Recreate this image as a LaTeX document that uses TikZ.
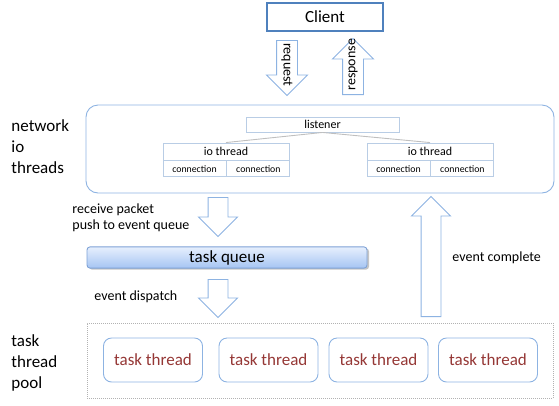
\documentclass[tikz,border=0pt]{standalone}
\usepackage{fontspec}
\setmainfont{Carlito}
\usetikzlibrary{calc,positioning,shapes.arrows,shadows}
\definecolor{clientblue}{HTML}{4F81BD}
\definecolor{lineblue}{HTML}{8DB3E2}
\definecolor{paleblue}{HTML}{B9CDE5}
\definecolor{threadred}{HTML}{953735}
\definecolor{queuetop}{HTML}{E6EFFD}
\definecolor{queuebot}{HTML}{A6C5F3}
\definecolor{queueline}{HTML}{7EA2D6}
\tikzset{
    clientbox/.style={draw=clientblue, line width=1.8pt, fill=white, minimum width=116pt, minimum height=28pt, font=\fontsize{17}{20}\selectfont},
    netbox/.style={draw=lineblue, rounded corners=12pt, minimum width=468pt, minimum height=88pt},
    iobox/.style={draw=paleblue, fill=white, inner sep=0pt, font=\fontsize{12}{14}\selectfont},
    cellbox/.style={draw=paleblue, inner sep=0pt, minimum width=63pt, minimum height=16pt, font=\fontsize{9.8}{12}\selectfont},
    blockarrow/.style={single arrow, draw=lineblue, fill=white, inner xsep=0pt, inner ysep=9.5pt, single arrow head extend=9.5pt, minimum width=38pt, single arrow tip angle=90},
    arrowtext/.style={inner sep=0pt, font=\fontsize{14}{16}\selectfont},
    lbl/.style={anchor=west, align=left, inner sep=0pt, font=\fontsize{14}{16}\selectfont},
    sidelbl/.style={anchor=west, align=left, inner sep=0pt, font=\fontsize{17}{21}\selectfont},
    queuebox/.style={draw=queueline, rounded corners=3pt, top color=queuetop, bottom color=queuebot, minimum width=280pt, minimum height=21pt, font=\fontsize{17}{20}\selectfont, drop shadow={shadow xshift=2pt, shadow yshift=-1.5pt, fill=black!45, opacity=0.5}},
    poolbox/.style={draw=black!30, dash pattern=on 1pt off 1pt, minimum width=466pt, minimum height=75pt},
    threadbox/.style={draw=lineblue, rounded corners=8pt, minimum width=99pt, minimum height=44pt, text=threadred, font=\fontsize{17}{20}\selectfont}
}

\begin{document}
\begin{tikzpicture}[x=1pt, y=-1pt, line width=0.9pt]
    \useasboundingbox (0,0) rectangle (559,405);

    % client on top
    \node[clientbox] (client) at (325,17) {Client};

    % request and response
    \node[blockarrow, rotate=-90, anchor=tail, minimum height=55pt, inner ysep=10pt, single arrow head extend=10pt, minimum width=40pt] (req) at (287,40) {};
    \node[arrowtext, rotate=-90] (reqtext) at ($(req.tail)!0.44!(req.tip)$) {request};
    \node[blockarrow, rotate=90, anchor=tail, minimum height=56pt, inner ysep=10pt, single arrow head extend=10pt, minimum width=40pt] (resp) at (353,95) {};
    \node[arrowtext, rotate=90] (resptext) at ($(resp.tail)!0.53!(resp.tip)$) {response};

    % network io threads
    \node[sidelbl] (netlbl) at (11,147) {network\\io\\threads};
    \node[netbox] (net) at (320,149) {};
    \node[iobox, minimum width=153pt, minimum height=15pt] (listener) at (322.5,124.5) {listener};
    \node[iobox, minimum width=126pt, minimum height=17pt] (iol) at (226,151.5) {io thread};
    \node[iobox, minimum width=126pt, minimum height=17pt] (ior) at (430,151.5) {io thread};
    \node[cellbox, below right=0pt of iol.south west] (conla) {connection};
    \node[cellbox, right=0pt of conla] (conlb) {connection};
    \node[cellbox, below right=0pt of ior.south west] (conra) {connection};
    \node[cellbox, right=0pt of conra] (conrb) {connection};
    \draw[black!25] (listener.south) -- (iol.north);
    \draw[black!25] (listener.south) -- (ior.north);

    % into the queue
    \node[blockarrow, rotate=-90, anchor=tail, minimum height=39pt] (recv) at (218,197) {};
    \node[lbl] (recvlbl) at (72,218) {receive packet\\push to event queue};
    \node[queuebox] (queue) at (227,257.5) {task queue};

    % out of the queue
    \node[blockarrow, rotate=-90, anchor=tail, minimum height=38pt] (disp) at (218,279) {};
    \node[lbl] (displbl) at (94,297) {event dispatch};

    % back to the io threads
    \node[blockarrow, rotate=90, anchor=tail, minimum height=120pt] (done) at (431,317) {};
    \node[lbl] (donelbl) at (452,258) {event complete};

    % task thread pool
    \node[sidelbl] (poollbl) at (11,363) {task\\thread\\pool};
    \node[poolbox] (pool) at (320,360.5) {};
    \node[threadbox] (ta) at (153,360) {task thread};
    \node[threadbox] (tb) at (268.5,360) {task thread};
    \node[threadbox] (tc) at (378.5,360) {task thread};
    \node[threadbox] (td) at (488,360) {task thread};
\end{tikzpicture}
\end{document}
